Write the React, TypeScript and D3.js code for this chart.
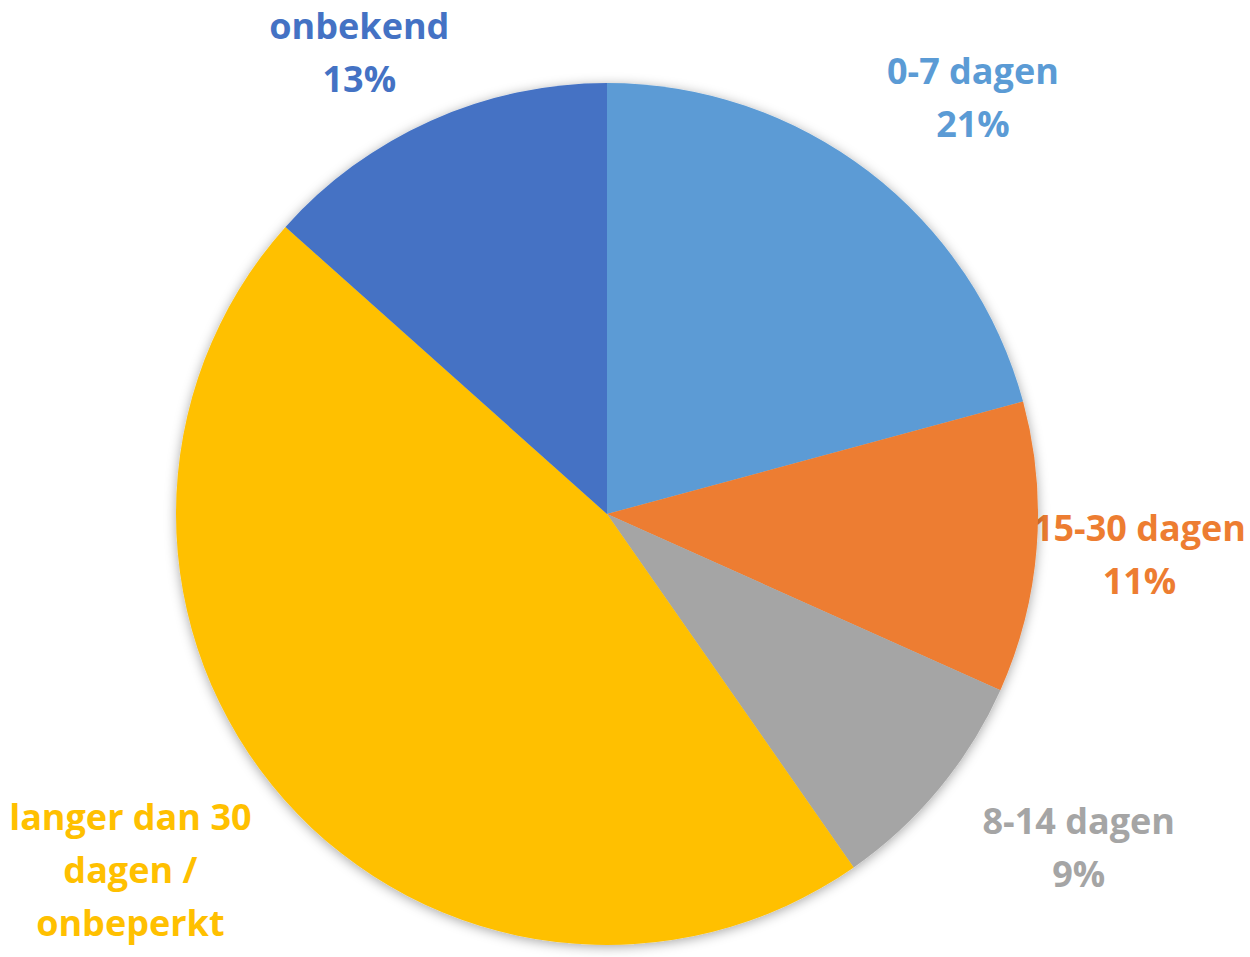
import React, { useEffect, useRef } from 'react'
import * as d3 from 'd3'

// share per category
const categories = ['0-7 dagen', '15-30 dagen', '8-14 dagen', 'langer dan 30 dagen / onbeperkt', 'onbekend']
const shares = [20.8, 10.9, 8.6, 46.3, 13.4]
const colors = ['#5B9BD5', '#ED7D31', '#A5A5A5', '#FFC000', '#4472C4']
const labelLines = [['0-7 dagen'], ['15-30 dagen'], ['8-14 dagen'], ['langer dan 30', 'dagen /', 'onbeperkt'], ['onbekend']]

const W = 1250
const H = 957
const FONT = "'Open Sans', 'DejaVu Sans', sans-serif"
const FONT_SIZE = 36
const LINE_H = 53

export default function App() {
  const ref = useRef<SVGSVGElement>(null)

  useEffect(() => {
    document.body.style.margin = '0'
    const svg = d3.select(ref.current)
    svg.selectAll('*').remove()

    const cx = 607
    const cy = 514
    const r = 431

    const defs = svg.append('defs')
    const f = defs.append('filter').attr('id', 'shadow').attr('x', '-10%').attr('y', '-10%').attr('width', '120%').attr('height', '120%')
    f.append('feDropShadow').attr('dx', 0).attr('dy', 2).attr('stdDeviation', 6).attr('flood-color', '#000').attr('flood-opacity', 0.35)

    const pie = d3.pie<number>().sort(null).value(d => d)
    const arcs = pie(shares)
    const arc = d3.arc<d3.PieArcDatum<number>>().innerRadius(0).outerRadius(r)

    const ctx = document.createElement('canvas').getContext('2d')!
    ctx.font = `bold ${FONT_SIZE}px ${FONT}`

    // labels go under the pie (the slice covers the 15-30 label a bit)
    const lg = svg.append('g')
    arcs.forEach((a, i) => {
      const lines = [...labelLines[i], d3.format('.0f')(a.data) + '%']
      const mid = (a.startAngle + a.endAngle) / 2
      const ux = Math.sin(mid)
      const uy = -Math.cos(mid)
      const hw = d3.max(lines, l => ctx.measureText(l).width)! / 2
      const hh = (labelLines[i].length + 1) * LINE_H / 2
      let x = cx + (r + 85) * ux + hw * ux
      let y = cy + (r + 40) * uy + hh * uy
      x = Math.max(hw + 4, Math.min(W - hw - 4, x))
      y = Math.max(hh, y)
      const t = lg.append('text')
        .attr('text-anchor', 'middle')
        .attr('font-family', FONT)
        .attr('font-weight', 700)
        .attr('font-size', FONT_SIZE)
        .attr('fill', colors[i])
      lines.forEach((l, j) => {
        t.append('tspan')
          .attr('x', x)
          .attr('y', y - hh + LINE_H * j + LINE_H / 2)
          .attr('dy', '0.35em')
          .text(l)
      })
    })

    const g = svg.append('g').attr('transform', `translate(${cx},${cy})`).attr('filter', 'url(#shadow)')
    g.selectAll('path')
      .data(arcs)
      .enter()
      .append('path')
      .attr('d', arc)
      .attr('fill', (d, i) => colors[i])
  }, [])

  return <svg ref={ref} width={W} height={H} style={{ display: 'block', background: '#fff' }} />
}
